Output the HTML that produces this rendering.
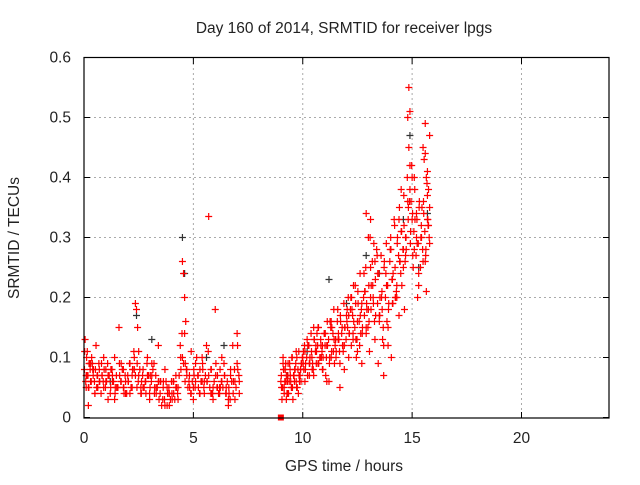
<!DOCTYPE html>
<html><head><meta charset="utf-8"><style>
body{margin:0;background:#fff;font-family:"Liberation Sans",sans-serif;}
svg text{font-family:"Liberation Sans",sans-serif;font-size:15.5px;fill:#222;}
</style></head><body>
<svg id="chart" width="640" height="480">
<text x="344" y="33" text-anchor="middle">Day 160 of 2014, SRMTID for receiver lpgs</text>
<text x="344" y="471" text-anchor="middle">GPS time / hours</text>
<text transform="translate(19,238) rotate(-90)" text-anchor="middle">SRMTID / TECUs</text>
<g id="grid"></g><g id="ticks"></g><g id="pts"></g>
<rect x="84" y="57.5" width="525" height="360.5" fill="none" stroke="#000" stroke-width="1.2"/>
</svg>
<script>
const xTicks=[0,5,10,15,20];
const yTicks=[0,0.1,0.2,0.3,0.4,0.5,0.6];
const yTickLabels=["0","0.1","0.2","0.3","0.4","0.5","0.6"];
const redX=[0.05,0.1,0.15,0.2,0.25,0.3,0.35,0.4,0.5,0.55,0.6,0.7,0.8,0.9,1.0,1.1,1.2,1.3,1.4,1.5,1.6,1.7,1.8,1.9,2.0,2.1,2.2,2.3,2.35,2.4,2.45,2.5,2.6,2.7,2.8,2.9,3.0,3.1,3.2,3.3,3.4,3.5,3.6,3.7,3.8,3.9,4.0,4.1,4.2,4.3,4.4,4.5,4.55,4.6,4.65,4.7,4.8,4.9,5.0,5.1,5.2,5.3,5.4,5.5,5.6,5.7,5.8,5.9,6.0,6.1,6.2,6.3,6.4,6.5,6.6,6.7,6.8,6.9,7.0,7.1,
0.1,0.3,0.5,0.7,0.9,1.1,1.3,1.5,1.7,1.9,2.1,2.3,2.5,2.7,2.9,3.1,3.3,3.5,3.7,3.9,4.1,4.3,4.5,4.7,4.9,5.1,5.3,5.5,5.7,5.9,6.1,6.3,6.5,6.7,6.9,7.1,
0.2,0.6,1.0,1.4,1.8,2.2,2.6,3.0,3.4,3.8,4.2,4.6,5.0,5.4,5.8,6.2,6.6,7.0,
9.0,9.1,9.15,9.2,9.25,9.3,9.4,9.5,9.6,9.7,9.8,9.9,10.0,10.1,10.2,10.3,10.4,10.5,10.6,10.7,10.8,10.9,11.0,11.1,11.2,11.3,11.4,11.5,11.6,11.7,11.8,11.9,12.0,12.1,12.2,12.3,12.4,12.5,12.6,12.7,12.8,12.9,13.0,13.1,13.2,13.3,13.4,13.5,13.6,13.7,13.8,13.9,14.0,14.1,14.2,14.3,14.4,14.5,14.6,14.7,14.8,14.85,14.9,14.95,15.0,15.1,15.2,15.3,15.4,15.5,15.55,15.6,15.65,15.7,15.75,15.8,
9.05,9.15,9.25,9.35,9.45,9.55,9.65,9.75,9.85,9.95,10.05,10.25,10.45,10.65,10.85,11.05,11.25,11.45,11.65,11.85,12.05,12.25,12.45,12.65,12.85,13.05,13.25,13.45,13.65,13.85,14.05,14.25,14.45,14.65,14.85,15.05,15.25,15.45,15.65,15.75,
9.1,9.3,9.5,9.7,9.9,10.1,10.3,10.5,10.7,10.9,11.1,11.3,11.5,11.7,11.9,12.1,12.3,12.5,12.7,12.9,13.1,13.3,13.5,13.7,13.9,14.1,14.3,14.5,14.7,14.9,15.1,15.3,15.5,15.7,
12.9,13.0,13.1,14.4,14.6,14.8,14.9,15.0,15.2,15.6,15.7,15.8,15.8,15.6];
const redY=[0.13,0.07,0.11,0.05,0.09,0.06,0.1,0.08,0.04,0.12,0.07,0.06,0.09,0.05,0.08,0.07,0.04,0.06,0.1,0.05,0.15,0.06,0.08,0.04,0.07,0.09,0.05,0.1,0.19,0.18,0.15,0.07,0.05,0.08,0.06,0.1,0.04,0.07,0.09,0.05,0.12,0.06,0.03,0.08,0.05,0.02,0.06,0.04,0.07,0.03,0.12,0.26,0.24,0.2,0.16,0.08,0.06,0.11,0.05,0.09,0.07,0.04,0.1,0.06,0.12,0.335,0.08,0.05,0.18,0.07,0.04,0.06,0.09,0.05,0.03,0.08,0.12,0.06,0.14,0.04,
0.05,0.09,0.04,0.08,0.1,0.03,0.07,0.05,0.09,0.06,0.04,0.08,0.11,0.05,0.07,0.09,0.04,0.06,0.02,0.04,0.06,0.05,0.1,0.07,0.04,0.06,0.08,0.04,0.07,0.03,0.05,0.1,0.04,0.07,0.03,0.06,
0.02,0.05,0.06,0.03,0.05,0.07,0.04,0.03,0.06,0.02,0.05,0.14,0.03,0.06,0.04,0.05,0.02,0.09,
0.06,0.1,0.04,0.08,0.03,0.06,0.09,0.05,0.07,0.11,0.04,0.08,0.1,0.06,0.13,0.09,0.11,0.07,0.12,0.15,0.1,0.08,0.14,0.12,0.06,0.16,0.11,0.13,0.18,0.09,0.15,0.12,0.17,0.1,0.2,0.14,0.22,0.16,0.12,0.19,0.24,0.15,0.18,0.33,0.22,0.13,0.27,0.17,0.2,0.12,0.24,0.15,0.28,0.19,0.32,0.22,0.17,0.38,0.25,0.3,0.5,0.55,0.42,0.36,0.33,0.28,0.34,0.22,0.3,0.26,0.43,0.49,0.4,0.37,0.32,0.29,
0.03,0.05,0.07,0.04,0.06,0.03,0.08,0.05,0.06,0.09,0.08,0.12,0.09,0.14,0.1,0.07,0.16,0.09,0.13,0.11,0.15,0.18,0.1,0.14,0.21,0.11,0.29,0.09,0.13,0.16,0.1,0.2,0.26,0.18,0.45,0.25,0.2,0.35,0.21,0.38,
0.09,0.04,0.1,0.06,0.08,0.11,0.07,0.15,0.09,0.12,0.06,0.1,0.13,0.05,0.08,0.17,0.13,0.11,0.09,0.14,0.2,0.26,0.16,0.07,0.12,0.23,0.2,0.31,0.27,0.38,0.4,0.24,0.45,0.33,
0.34,0.3,0.25,0.33,0.28,0.36,0.51,0.4,0.3,0.44,0.41,0.47,0.35,0.26];
// denser cluster points
const red2X=[0.02,0.08,0.12,0.18,0.22,0.28,0.32,0.38,0.42,0.48,0.52,0.58,0.62,0.68,0.72,0.78,0.82,0.88,0.92,0.98,1.02,1.08,1.15,1.22,1.28,1.35,1.42,1.48,1.55,1.62,1.68,1.75,1.82,1.88,1.95,2.02,2.08,2.15,2.22,2.28,2.35,2.42,2.48,2.55,2.62,2.68,2.75,2.82,2.88,2.95,3.02,3.08,3.15,3.22,3.28,3.35,3.42,3.48,3.55,3.62,3.68,3.75,3.82,3.88,3.95,4.02,4.08,4.15,4.22,4.28,4.35,4.42,4.48,4.55,4.62,4.68,4.75,4.82,4.88,4.95,5.02,5.08,5.15,5.22,5.28,5.35,5.42,5.48,5.55,5.62,5.68,5.75,5.82,5.88,5.95,6.02,6.08,6.15,6.22,6.28,6.35,6.42,6.48,6.55,6.62,6.68,6.75,6.82,6.88,6.95,7.02,7.08,
0.03,0.13,0.23,0.33,0.43,0.63,0.83,1.03,1.23,1.43,1.63,1.83,2.03,2.23,2.43,2.63,2.83,3.03,3.23,3.43,3.63,3.83,4.03,4.23,4.43,4.63,4.83,5.03,5.23,5.43,5.63,5.83,6.03,6.23,6.43,6.63,6.83,7.03,
9.02,9.08,9.12,9.18,9.22,9.28,9.32,9.38,9.42,9.48,9.52,9.58,9.62,9.68,9.72,9.78,9.82,9.88,9.92,9.98,10.02,10.08,10.12,10.18,10.22,10.28,10.32,10.38,10.42,10.48,10.52,10.58,10.62,10.68,10.72,10.78,10.82,10.88,10.92,10.98,11.02,11.08,11.12,11.18,11.22,11.28,11.32,11.38,11.42,11.48,11.52,11.58,11.62,11.68,11.72,11.78,11.82,11.88,11.92,11.98,12.02,12.08,12.12,12.18,12.22,12.28,12.32,12.38,12.42,12.48,12.52,12.58,12.62,12.68,12.72,12.78,12.82,12.88,12.92,12.98,13.02,13.08,13.12,13.18,13.22,13.28,13.32,13.38,13.42,13.48,13.52,13.58,13.62,13.68,13.72,13.78,13.82,13.88,13.92,13.98,14.02,14.08,14.12,14.18,14.22,14.28,14.32,14.38,14.42,14.48,14.52,14.58,14.62,14.68,14.72,14.78,14.82,14.88,14.92,14.98,15.02,15.08,15.12,15.18,15.22,15.28,15.32,15.38,15.42,15.48,15.52,15.58,15.62,15.68,15.72,15.78,
9.03,9.13,9.23,9.33,9.43,9.53,9.63,9.73,9.83,9.93,10.03,10.13,10.23,10.33,10.43,10.53,10.63,10.73,10.83,10.93,11.03,11.13,11.23,11.33,11.43,11.53,11.63,11.73,11.83,11.93,12.03,12.13,12.23,12.33,12.43,12.53,12.63,12.73,12.83,12.93,13.03,13.13,13.23,13.33,13.43,13.53,13.63,13.73,13.83,13.93,14.03,14.13,14.23,14.33,14.43,14.53,14.63,14.73,14.83,14.93,15.03,15.13,15.23,15.33,15.43,15.53,15.63,15.73];
const red2Y=[0.08,0.06,0.1,0.07,0.05,0.08,0.06,0.09,0.07,0.06,0.08,0.05,0.07,0.09,0.06,0.04,0.07,0.06,0.08,0.05,0.06,0.09,0.07,0.05,0.08,0.06,0.04,0.07,0.05,0.09,0.06,0.08,0.05,0.07,0.04,0.06,0.09,0.05,0.08,0.11,0.07,0.05,0.06,0.08,0.04,0.07,0.05,0.06,0.09,0.07,0.05,0.06,0.08,0.04,0.07,0.05,0.06,0.04,0.02,0.05,0.03,0.06,0.04,0.05,0.03,0.04,0.06,0.03,0.05,0.04,0.07,0.1,0.14,0.09,0.06,0.08,0.05,0.07,0.04,0.06,0.08,0.05,0.1,0.07,0.04,0.06,0.09,0.05,0.07,0.06,0.11,0.05,0.08,0.04,0.06,0.07,0.05,0.04,0.08,0.06,0.05,0.07,0.04,0.06,0.05,0.03,0.06,0.04,0.08,0.05,0.12,0.07,
0.11,0.07,0.09,0.06,0.08,0.05,0.07,0.06,0.08,0.05,0.07,0.04,0.06,0.08,0.09,0.06,0.04,0.07,0.05,0.03,0.06,0.04,0.03,0.05,0.08,0.09,0.05,0.07,0.05,0.08,0.06,0.04,0.09,0.05,0.07,0.04,0.06,0.08,
0.07,0.05,0.08,0.06,0.09,0.04,0.07,0.06,0.08,0.05,0.1,0.07,0.06,0.09,0.05,0.08,0.11,0.07,0.06,0.1,0.09,0.12,0.08,0.1,0.07,0.12,0.09,0.14,0.1,0.08,0.13,0.11,0.09,0.12,0.15,0.1,0.13,0.11,0.08,0.14,0.12,0.1,0.16,0.13,0.09,0.15,0.11,0.14,0.18,0.12,0.1,0.16,0.13,0.11,0.17,0.14,0.12,0.19,0.15,0.13,0.16,0.2,0.14,0.18,0.12,0.17,0.22,0.15,0.19,0.13,0.21,0.16,0.24,0.18,0.14,0.2,0.17,0.25,0.19,0.15,0.22,0.3,0.18,0.26,0.2,0.16,0.23,0.28,0.19,0.24,0.17,0.27,0.21,0.15,0.25,0.2,0.29,0.22,0.18,0.26,0.3,0.23,0.19,0.33,0.25,0.21,0.29,0.27,0.35,0.24,0.31,0.28,0.37,0.26,0.3,0.4,0.33,0.36,0.29,0.42,0.34,0.31,0.38,0.27,0.33,0.29,0.35,0.25,0.32,0.28,0.36,0.31,0.27,0.39,0.33,0.3,
0.05,0.08,0.06,0.09,0.07,0.05,0.08,0.1,0.07,0.09,0.11,0.09,0.12,0.1,0.08,0.13,0.11,0.09,0.12,0.1,0.14,0.12,0.1,0.15,0.13,0.11,0.14,0.16,0.12,0.15,0.18,0.14,0.2,0.16,0.13,0.19,0.17,0.15,0.21,0.18,0.16,0.22,0.19,0.17,0.24,0.2,0.18,0.26,0.22,0.19,0.28,0.24,0.2,0.3,0.26,0.22,0.32,0.28,0.35,0.31,0.27,0.33,0.29,0.36,0.3,0.34,0.28,0.32];
const blackX=[0.3,1.2,2.4,3.1,4.5,4.6,5.6,6.4,9.3,10.2,11.2,12.0,12.9,13.5,14.6,14.9,15.3,15.7];
const blackY=[0.09,0.06,0.17,0.13,0.3,0.24,0.1,0.12,0.07,0.11,0.23,0.19,0.27,0.24,0.33,0.47,0.25,0.34];
const sqX=[9.0], sqY=[0];
const sx=v=>84+v*525/24, sy=v=>417.5-v*600;
const NS="http://www.w3.org/2000/svg";
const grid=document.getElementById('grid'),ticks=document.getElementById('ticks'),pts=document.getElementById('pts');
function mk(t,a,p){const e=document.createElementNS(NS,t);for(const k in a)e.setAttribute(k,a[k]);p.appendChild(e);return e;}
xTicks.forEach(v=>{const x=sx(v);
 if(v>0){const g=mk('line',{x1:x,y1:58,x2:x,y2:418,stroke:'#aaa','stroke-dasharray':'2,3'},grid);
 
 }
 mk('line',{x1:x,y1:418,x2:x,y2:412,stroke:'#000'},ticks);mk('line',{x1:x,y1:58,x2:x,y2:64,stroke:'#000'},ticks);
 const t=mk('text',{x:x,y:443,'text-anchor':'middle'},ticks);t.textContent=v;
 
 });
yTicks.forEach((v,i)=>{const y=sy(v);
 if(v>0&&v<0.6){const g=mk('line',{x1:84,y1:y,x2:609,y2:y,stroke:'#aaa','stroke-dasharray':'2,3'},grid);
 
 }
 mk('line',{x1:84,y1:y,x2:90,y2:y,stroke:'#000'},ticks);mk('line',{x1:609,y1:y,x2:603,y2:y,stroke:'#000'},ticks);
 const t=mk('text',{x:71,y:y+5,'text-anchor':'end'},ticks);t.textContent=yTickLabels[i];
 
 });
function plus(x,y,c,name){const p=mk('path',{d:`M${x-3.5} ${y}h7M${x} ${y-3.5}v7`,stroke:c,'stroke-width':1.2,fill:'none'},pts);
 
 }
blackX.forEach((v,i)=>plus(sx(v),sy(blackY[i]),'#333','black-point'));
redX.forEach((v,i)=>plus(sx(v),sy(redY[i]),'#f00','red-point'));
red2X.forEach((v,i)=>plus(sx(v),sy(red2Y[i]),'#f00','red-point'));
sqX.forEach((v,i)=>{const r=mk('rect',{x:sx(v)-3,y:sy(sqY[i])-3,width:6,height:6,fill:'#f00'},pts);
 
 });
</script>
</body></html>
